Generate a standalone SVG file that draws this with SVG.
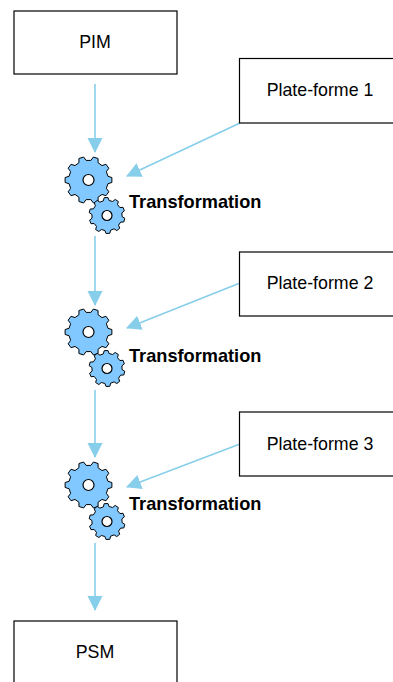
<svg xmlns="http://www.w3.org/2000/svg" width="393" height="682" viewBox="0 0 393 682">
<style>
.box{fill:#fff;stroke:#000;stroke-width:1.2}
.t{font-family:"Liberation Sans",Arial,sans-serif;font-size:17.800px;fill:#000;text-anchor:middle}
.b{font-family:"Liberation Sans",Arial,sans-serif;font-size:18.200px;font-weight:bold;fill:#000}
.c{fill:none;stroke:#87ceeb;stroke-width:1.6;marker-end:url(#a)}
.g{fill:#80c8ff;stroke:#000;stroke-width:1;vector-effect:non-scaling-stroke;stroke-linejoin:round}
.h{fill:#fff;stroke:#000;stroke-width:1.2;vector-effect:non-scaling-stroke}
</style>
<defs>
<marker id="a" markerUnits="userSpaceOnUse" markerWidth="16" markerHeight="16" refX="14" refY="7.5" orient="auto"><path d="M0,0L15,7.500L0,15z" fill="#87ceeb"/></marker>
<path id="gear" class="g" d="M82.500,-16L99.500,-10.500L99.500,10.500L82.500,16L76.100,35.500L86.600,50L74.300,66.900L57.300,61.400L40.700,73.500L40.700,91.400L20.800,97.800L10.200,83.400L-10.200,83.400L-20.800,97.800L-40.700,91.400L-40.700,73.500L-57.300,61.400L-74.300,66.900L-86.600,50L-76.100,35.500L-82.500,16L-99.500,10.500L-99.500,-10.500L-82.500,-16L-76.100,-35.500L-86.600,-50L-74.300,-66.900L-57.300,-61.400L-40.700,-73.500L-40.700,-91.400L-20.800,-97.800L-10.200,-83.400L10.200,-83.400L20.800,-97.800L40.700,-91.400L40.700,-73.500L57.300,-61.400L74.300,-66.900L86.600,-50L76.100,-35.500z"/>
<g id="big"><use href="#gear" transform="scale(.235)"/><circle class="h" r="5.500"/></g>
<g id="small"><use href="#gear" transform="rotate(15) scale(.18)"/><circle class="h" r="5"/></g>
</defs>
<g id="connectors">
<path class="c" d="M95,84V152"/>
<path class="c" d="M95,236V305"/>
<path class="c" d="M95,390V457"/>
<path class="c" d="M95,543V610"/>
<path class="c" d="M240,123L127,176"/>
<path class="c" d="M240,283L127,328"/>
<path class="c" d="M240,444L127,487"/>
</g>
<g id="pim"><rect class="box" x="14" y="11" width="163" height="63"/><text class="t" x="95" y="48">PIM</text></g>
<g id="plateforme1"><rect class="box" x="239.500" y="58.500" width="160" height="64.500"/><text class="t" x="320" y="96">Plate-forme 1</text></g>
<g id="plateforme2"><rect class="box" x="239.500" y="252" width="160" height="64"/><text class="t" x="320" y="289">Plate-forme 2</text></g>
<g id="plateforme3"><rect class="box" x="239.500" y="412" width="160" height="64"/><text class="t" x="320" y="450">Plate-forme 3</text></g>
<g id="psm"><rect class="box" x="14" y="621" width="163" height="70"/><text class="t" x="95" y="658">PSM</text></g>
<g id="transformation1"><use href="#big" x="88.500" y="180"/><use href="#small" x="107" y="215.500"/><text class="b" x="129" y="208">Transformation</text></g>
<g id="transformation2"><use href="#big" x="88.500" y="332"/><use href="#small" x="107" y="368.500"/><text class="b" x="129" y="362">Transformation</text></g>
<g id="transformation3"><use href="#big" x="88.500" y="485"/><use href="#small" x="107" y="521.500"/><text class="b" x="129" y="510">Transformation</text></g>
</svg>
